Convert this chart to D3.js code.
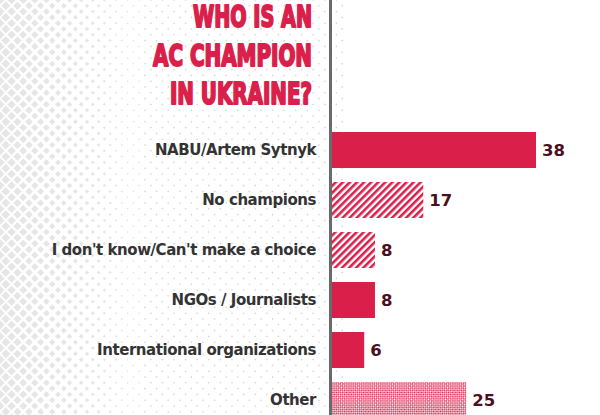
<!DOCTYPE html>
<html>
<head>
<meta charset="utf-8">
<script src="https://cdn.jsdelivr.net/npm/d3@7"></script>
<style>
  body { margin: 0; background: #fff; }
  svg { display: block; }
</style>
</head>
<body>
<script>
// horizontal bar chart: who is an AC champion in Ukraine

var categories = ["NABU/Artem Sytnyk", "No champions", "I don't know/Can't make a choice",
                  "NGOs / Journalists", "International organizations", "Other"];
var values = [38, 17, 8, 8, 6, 25];
var fills = ["solid", "hatch", "hatch", "solid", "solid", "check"]; // bar fill style per category
var titleLines = ["WHO IS AN", "AC CHAMPION", "IN UKRAINE?"];

var width = 600,
    height = 415;

var red = "#db1f4b";

var svg = d3.select("body")
    .append("svg")
    .attr("width", width)
    .attr("height", height);

var defs = svg.append("defs");

//diagonal hatch pattern
var hatch = defs.append("pattern")
    .attr("id", "hatch")
    .attr("patternUnits", "userSpaceOnUse")
    .attr("width", 5)
    .attr("height", 5)
    .attr("patternTransform", "rotate(45)");
hatch.append("rect").attr("width", 5).attr("height", 5).attr("fill", "#fff");
hatch.append("rect").attr("width", 2.6).attr("height", 5).attr("fill", red);

//fine checker pattern
var check = defs.append("pattern")
    .attr("id", "check")
    .attr("patternUnits", "userSpaceOnUse")
    .attr("width", 3)
    .attr("height", 3)
    .attr("patternTransform", "rotate(45)");
check.append("rect").attr("width", 3).attr("height", 3).attr("fill", red);
check.append("rect").attr("width", 1.5).attr("height", 1.5).attr("fill", "#fff");
check.append("rect").attr("x", 1.5).attr("y", 1.5).attr("width", 1.5).attr("height", 1.5).attr("fill", "#fff");

//background dot texture, bigger diamonds on the left
var bg = svg.append("g").attr("class", "bg");
for (var row = 0; row * 5.8 < height + 6; row++) {
    var off = (row % 2) * 5.8;
    for (var cx = off; cx < 346; cx += 11.6) {
        var s = Math.max(1.5, 6.5 - cx * 0.04);
        bg.append("rect")
            .attr("x", -s / 2)
            .attr("y", -s / 2)
            .attr("width", s)
            .attr("height", s)
            .attr("fill", cx < 140 ? "#e6e6e6" : "#d8d8d8")
            .attr("transform", "translate(" + cx + "," + (row * 5.8) + ") rotate(45)");
    }
}

//axis line
svg.append("rect")
    .attr("x", 329)
    .attr("y", 0)
    .attr("width", 3)
    .attr("height", height)
    .attr("fill", "#6a6a6a");

//scales
var x = d3.scaleLinear()
    .domain([0, 38])
    .range([332, 536]);

var y = d3.scaleBand()
    .domain(categories)
    .range([125, 425])
    .paddingInner(0.28)
    .paddingOuter(0.14);

//title
svg.append("g")
    .selectAll("text")
    .data(titleLines)
    .enter()
    .append("text")
    .attr("x", 312)
    .attr("y", function(d, i){ return 27 + i * 38.5; })
    .attr("text-anchor", "end")
    .attr("font-family", "'Liberation Sans Narrow', 'DejaVu Sans Condensed', sans-serif")
    .attr("font-weight", "bold")
    .attr("font-size", 31)
    .attr("fill", red)
    .attr("stroke", red)
    .attr("stroke-width", 2)
    .attr("stroke-linejoin", "round")
    .attr("textLength", function(d, i){ return [119, 159, 142][i]; })
    .attr("lengthAdjust", "spacingAndGlyphs")
    .text(function(d){ return d; });

//bars
svg.append("g")
    .selectAll("rect")
    .data(values)
    .enter()
    .append("rect")
    .attr("x", x(0))
    .attr("y", function(d, i){ return y(categories[i]); })
    .attr("width", function(d){ return x(d) - x(0); })
    .attr("height", y.bandwidth())
    .attr("fill", function(d, i){
        return fills[i] == "solid" ? red : "url(#" + fills[i] + ")";
    });

//category labels
svg.append("g")
    .selectAll("text")
    .data(categories)
    .enter()
    .append("text")
    .attr("x", 316)
    .attr("y", function(d){ return y(d) + y.bandwidth() / 2; })
    .attr("dy", "0.36em")
    .attr("text-anchor", "end")
    .attr("font-family", "'DejaVu Sans', Verdana, sans-serif")
    .attr("font-weight", "bold")
    .attr("font-size", 15)
    .attr("letter-spacing", -0.45)
    .attr("fill", "#333")
    .text(function(d){ return d; });

//value labels
svg.append("g")
    .selectAll("text")
    .data(values)
    .enter()
    .append("text")
    .attr("x", function(d){ return x(d) + 6; })
    .attr("y", function(d, i){ return y(categories[i]) + y.bandwidth() / 2; })
    .attr("dy", "0.37em")
    .attr("font-family", "'DejaVu Sans', Verdana, sans-serif")
    .attr("font-weight", "bold")
    .attr("font-size", 16.5)
    .attr("fill", "#4a0f20")
    .text(function(d){ return d; });
</script>
</body>
</html>
